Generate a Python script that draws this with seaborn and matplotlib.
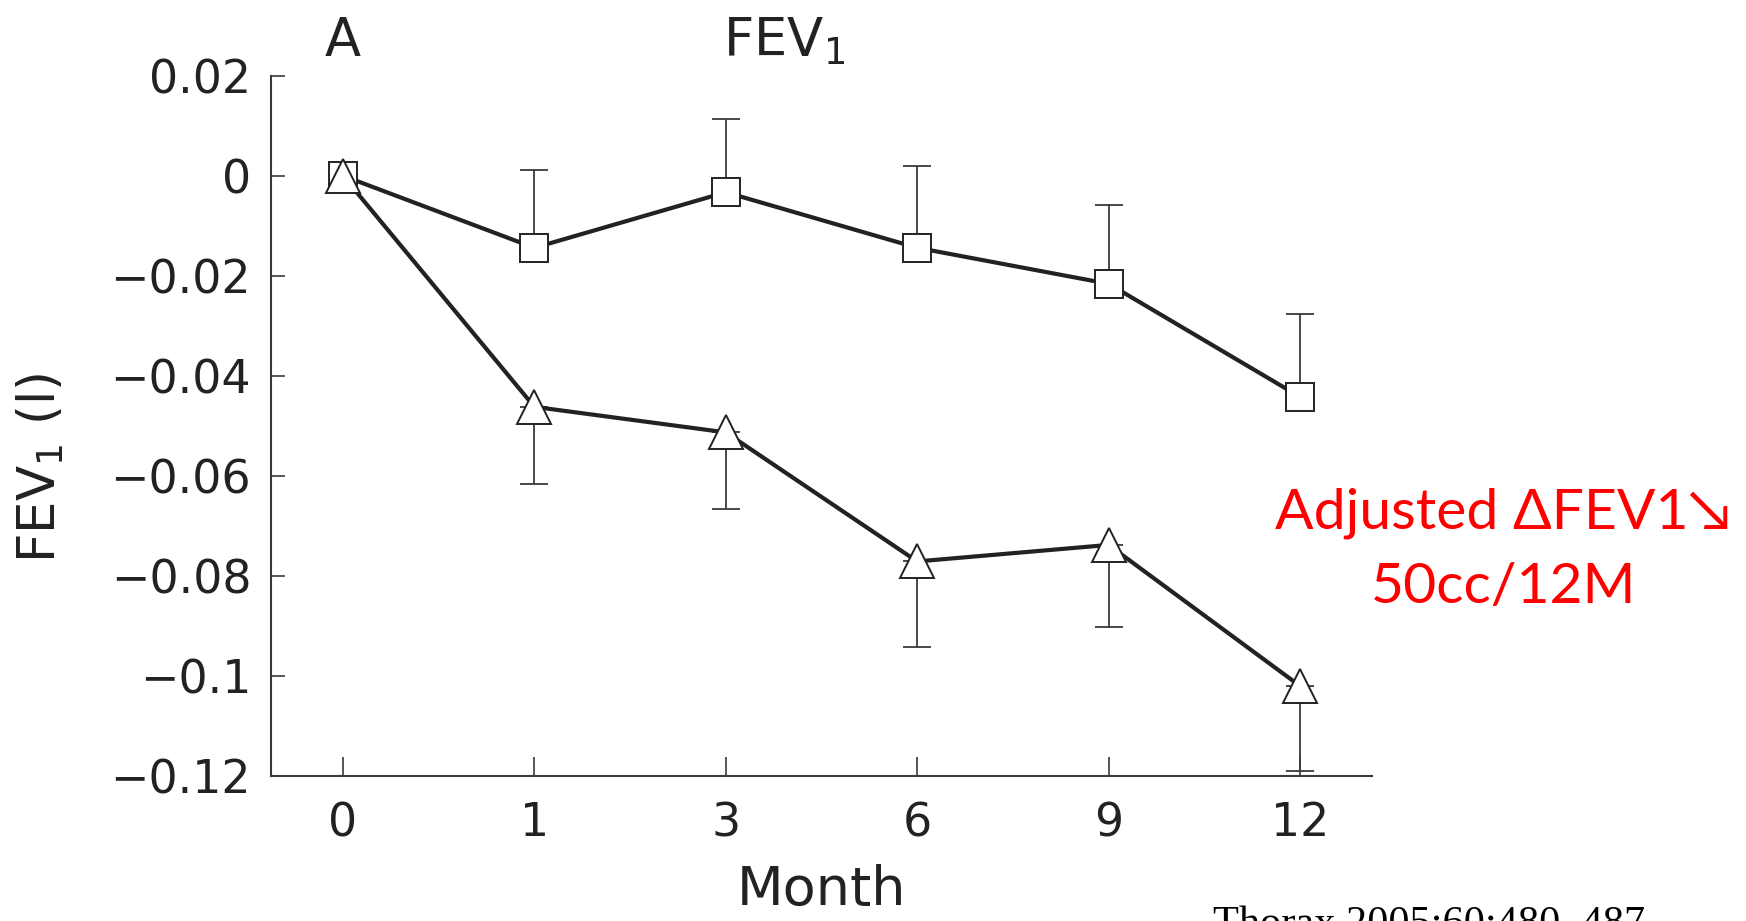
import numpy as np
import pandas as pd
import seaborn as sns
import matplotlib
matplotlib.use("Agg")
import matplotlib.pyplot as plt

# Month labels and mean change in FEV1 (litres) with one-sided SE bars
months = ["0", "1", "3", "6", "9", "12"]
square_mean = [0.0, -0.0144, -0.0033, -0.0144, -0.0216, -0.0442]
square_err = [0.0, 0.0156, 0.0146, 0.0164, 0.0158, 0.0166]
triangle_mean = [0.0, -0.0462, -0.0513, -0.0771, -0.0738, -0.1020]
triangle_err = [0.0, 0.0154, 0.0154, 0.0171, 0.0164, 0.0169]

y_ticks = [0.02, 0.0, -0.02, -0.04, -0.06, -0.08, -0.1, -0.12]
y_tick_labels = ["0.02", "0", "\u22120.02", "\u22120.04", "\u22120.06",
                 "\u22120.08", "\u22120.1", "\u22120.12"]

sns.set_theme(style="ticks")
plt.rcParams["font.family"] = ["DejaVu Sans"]

pos = np.arange(len(months))
df = pd.concat([
    pd.DataFrame({"pos": pos, "fev1": square_mean, "group": "square"}),
    pd.DataFrame({"pos": pos, "fev1": triangle_mean, "group": "triangle"}),
])

fig = plt.figure(figsize=(17.46, 9.21), dpi=100)
ax = fig.add_axes([0.155, 0.1574, 0.631, 0.7604])

axis_grey = "#3a3a3a"

# Error bars first so markers sit on top of them
ax.errorbar(pos, square_mean, yerr=[np.zeros(len(pos)), square_err],
            fmt="none", ecolor=axis_grey, elinewidth=1.3, capsize=10,
            capthick=1.3, zorder=1)
ax.errorbar(pos, triangle_mean, yerr=[triangle_err, np.zeros(len(pos))],
            fmt="none", ecolor=axis_grey, elinewidth=1.3, capsize=10,
            capthick=1.3, zorder=1)

sns.lineplot(data=df, x="pos", y="fev1", style="group",
             markers={"square": "s", "triangle": "^"},
             dashes=False, color="#222222", linewidth=3.0,
             markersize=20, markerfacecolor="white",
             markeredgecolor="#222222", markeredgewidth=1.4,
             legend=False, ax=ax, zorder=3)
# Slightly larger triangles
for line in ax.lines:
    if line.get_marker() == "^":
        line.set_markersize(24)

ax.set_xlim(-0.378, len(months) - 1 + 0.378)
ax.set_ylim(-0.12, 0.02)
ax.set_xticks(pos)
ax.set_xticklabels(months)
ax.set_yticks(y_ticks)
ax.set_yticklabels(y_tick_labels)

sns.despine(ax=ax)
for side in ("left", "bottom"):
    ax.spines[side].set_color(axis_grey)
    ax.spines[side].set_linewidth(1.5)

ax.tick_params(axis="y", direction="in", length=10, width=1.2,
               color=axis_grey, labelsize=33, pad=14, labelcolor="#222222")
ax.tick_params(axis="x", direction="in", length=14, width=1.2,
               color=axis_grey, labelsize=33, pad=18, labelcolor="#222222")

ax.set_xlabel("Month", fontsize=39, color="#222222")
ax.xaxis.set_label_coords(0.5, -0.126)
ax.set_ylabel("FEV$_1$ (l)", fontsize=37, color="#222222")
ax.yaxis.set_label_coords(-0.185, 0.44)

fig.text(0.196, 0.955, "A", fontsize=38, color="#222222",
         ha="center", va="center")
fig.text(0.449, 0.955, "FEV$_1$", fontsize=38, color="#222222",
         ha="center", va="center")

fig.text(0.861, 0.443, "Adjusted \u0394FEV1\u2198", fontsize=41,
         color="#ff0000", ha="center", va="center",
         family=["Lato", "DejaVu Sans"])
fig.text(0.861, 0.362, "50cc/12M", fontsize=41, color="#ff0000",
         ha="center", va="center", family=["Lato", "DejaVu Sans"])

fig.text(0.695, 0.0165, "Thorax 2005;60:480\u2013487", fontsize=30.5,
         color="black", ha="left", va="top", family="Liberation Serif")

fig.savefig("out.png", dpi=100)
